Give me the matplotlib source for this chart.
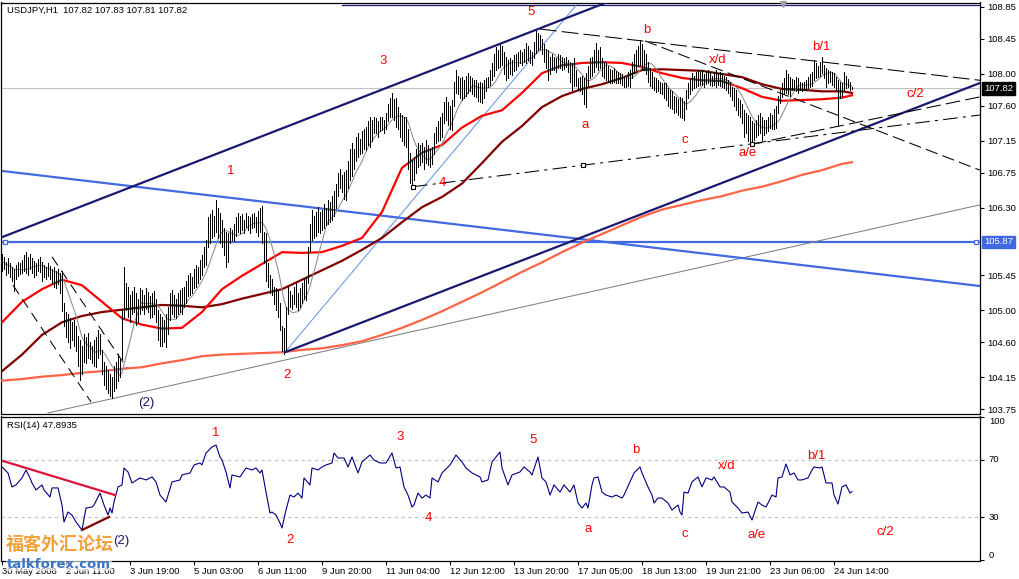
import numpy as np
import pandas as pd
import matplotlib
matplotlib.use("Agg")
import matplotlib.pyplot as plt
import matplotlib.transforms as mtransforms

# ---------------- data ----------------
highs = [
 105.72,105.68,105.62,105.66,105.60,105.55,105.52,105.58,105.62,105.60,
 105.64,105.70,105.74,105.68,105.72,105.66,105.63,105.60,105.65,105.68,
 105.62,105.58,105.55,105.60,105.56,105.52,105.55,105.50,105.53,105.48,
 105.50,105.10,104.98,104.95,104.90,104.85,104.88,104.80,104.68,104.62,
 104.55,104.70,104.66,104.72,104.60,104.55,104.62,104.66,104.75,104.70,
 104.50,104.35,104.30,104.25,104.20,104.15,104.30,104.35,104.45,104.40,
 105.00,105.55,105.35,105.30,105.20,105.25,105.30,105.22,105.15,105.28,
 105.26,105.20,105.28,105.24,105.18,105.22,105.25,105.15,105.00,104.95,
 104.92,104.88,104.95,105.05,105.22,105.26,105.20,105.15,105.22,105.26,
 105.28,105.30,105.38,105.45,105.48,105.42,105.52,105.58,105.55,105.64,
 105.70,105.80,105.90,106.18,106.22,106.28,106.20,106.40,106.30,106.24,
 106.15,106.05,106.00,105.98,106.05,106.02,106.10,106.18,106.24,106.20,
 106.22,106.15,106.24,106.20,106.18,106.22,106.24,106.18,106.26,106.30,
 106.33,106.00,105.98,105.60,105.45,105.40,105.30,105.28,105.25,105.10,
 104.80,104.78,105.05,105.30,105.25,105.20,105.30,105.35,105.22,105.28,
 105.35,105.40,105.43,105.80,106.10,106.27,106.20,106.25,106.31,106.25,
 106.28,106.35,106.30,106.40,106.38,106.45,106.52,106.60,106.75,106.80,
 106.72,106.76,106.78,106.90,107.05,107.13,107.05,107.20,107.25,107.18,
 107.28,107.30,107.33,107.40,107.46,107.42,107.45,107.44,107.40,107.45,
 107.46,107.42,107.50,107.62,107.70,107.76,107.68,107.70,107.58,107.50,
 107.48,107.45,107.46,107.30,107.00,106.91,106.95,107.05,107.13,107.10,
 107.12,107.08,107.16,107.10,107.05,107.08,107.25,107.33,107.40,107.46,
 107.50,107.65,107.71,107.65,107.60,107.67,107.90,108.05,107.98,107.95,
 107.96,107.92,107.98,108.01,107.98,107.95,107.92,107.93,107.88,107.90,
 107.88,107.92,107.95,107.96,108.05,108.14,108.25,108.34,108.30,108.39,
 108.36,108.28,108.22,108.18,108.20,108.18,108.24,108.26,108.28,108.30,
 108.28,108.32,108.39,108.36,108.30,108.28,108.40,108.56,108.52,108.50,
 108.45,108.38,108.32,108.30,108.22,108.25,108.22,108.20,108.26,108.24,
 108.22,108.20,108.22,108.18,108.15,108.14,108.20,108.05,107.95,107.96,
 107.98,107.95,108.01,108.10,108.20,108.22,108.30,108.39,108.30,108.34,
 108.20,108.15,108.14,108.10,108.06,108.05,108.08,108.04,108.02,108.01,
 108.00,107.98,107.96,108.02,108.05,108.15,108.26,108.30,108.36,108.43,
 108.38,108.30,108.26,108.15,108.08,108.02,107.96,107.95,107.92,107.90,
 107.89,107.88,107.88,107.82,107.80,107.78,107.72,107.71,107.68,107.71,
 107.70,107.66,107.80,107.88,107.95,108.01,107.98,108.03,108.05,108.02,
 108.05,108.00,108.04,108.05,108.02,107.98,108.03,108.05,108.00,108.02,
 108.01,107.98,107.96,107.92,107.90,107.84,107.82,107.80,107.70,107.67,
 107.62,107.54,107.50,107.48,107.46,107.40,107.38,107.42,107.48,107.50,
 107.46,107.42,107.42,107.45,107.50,107.48,107.55,107.60,107.72,107.80,
 107.88,107.95,108.05,108.00,107.96,107.94,107.92,107.96,107.95,107.90,
 107.89,107.90,107.92,107.96,108.00,108.02,108.18,108.14,108.10,108.15,
 108.22,108.12,108.08,108.05,108.04,108.02,108.01,107.96,107.92,107.90,
 107.88,108.02,107.98,107.94,107.90,107.83]
lows = [
 105.50,105.52,105.45,105.47,105.42,105.38,105.25,105.40,105.44,105.46,
 105.47,105.50,105.48,105.45,105.52,105.48,105.42,105.45,105.50,105.49,
 105.38,105.42,105.40,105.44,105.40,105.35,105.30,105.28,105.33,105.22,
 104.99,104.80,104.66,104.60,104.52,104.62,104.55,104.48,104.30,104.12,
 104.20,104.35,104.33,104.40,104.38,104.33,104.30,104.28,104.40,104.45,
 104.20,104.05,104.00,103.95,103.92,103.89,103.98,104.02,104.10,104.15,
 104.38,104.90,105.00,104.92,104.85,104.95,104.98,104.82,104.85,104.95,
 105.00,104.95,105.02,104.98,104.90,104.92,104.96,104.85,104.62,104.55,
 104.55,104.60,104.54,104.70,104.88,104.95,104.92,104.90,104.96,104.98,
 104.96,105.05,105.10,105.18,105.20,105.22,105.28,105.30,105.35,105.40,
 105.45,105.55,105.58,105.80,105.85,105.92,105.95,106.00,105.92,105.86,
 105.80,105.70,105.55,105.62,105.85,105.90,105.88,105.95,106.00,105.98,
 106.02,105.98,106.06,106.02,105.98,106.05,106.06,106.00,105.95,106.00,
 105.86,105.60,105.38,105.30,105.22,105.20,105.08,105.00,104.92,104.75,
 104.48,104.45,104.50,104.95,105.05,105.02,105.08,105.05,105.00,105.05,
 105.10,105.15,105.13,105.35,105.75,105.89,105.92,105.95,106.00,105.98,
 106.02,106.05,106.08,106.10,106.12,106.15,106.20,106.30,106.45,106.55,
 106.50,106.42,106.40,106.55,106.65,106.70,106.80,106.90,106.95,106.98,
 107.00,107.05,107.04,107.10,107.08,107.15,107.25,107.25,107.20,107.28,
 107.29,107.25,107.30,107.40,107.45,107.46,107.42,107.33,107.30,107.20,
 107.15,107.10,107.08,106.80,106.62,106.57,106.65,106.75,106.82,106.85,
 106.88,106.80,106.87,106.85,106.82,106.86,106.98,107.13,107.15,107.16,
 107.20,107.38,107.42,107.35,107.30,107.29,107.60,107.76,107.74,107.70,
 107.67,107.70,107.72,107.76,107.78,107.74,107.72,107.71,107.66,107.64,
 107.63,107.70,107.78,107.84,107.86,107.92,107.98,108.05,108.08,108.09,
 108.12,108.00,107.92,107.95,108.00,107.99,108.04,108.05,108.10,108.14,
 108.12,108.15,108.14,108.18,108.14,108.12,108.20,108.27,108.30,108.32,
 108.25,108.15,108.07,107.92,108.00,108.05,108.05,108.02,108.08,108.07,
 108.05,108.06,108.09,108.02,107.90,107.80,107.85,107.85,107.80,107.78,
 107.75,107.62,107.58,107.85,107.95,107.98,108.02,108.09,108.05,108.08,
 107.98,107.95,107.92,107.90,107.88,107.88,107.90,107.89,107.88,107.89,
 107.86,107.84,107.84,107.85,107.83,107.95,108.01,108.05,108.10,108.12,
 108.05,108.05,108.00,107.90,107.85,107.82,107.80,107.77,107.78,107.76,
 107.75,107.70,107.67,107.60,107.57,107.55,107.50,107.52,107.48,107.46,
 107.44,107.42,107.55,107.70,107.75,107.80,107.82,107.83,107.85,107.86,
 107.86,107.84,107.87,107.88,107.86,107.85,107.86,107.84,107.86,107.85,
 107.84,107.82,107.80,107.76,107.72,107.67,107.60,107.54,107.48,107.46,
 107.38,107.20,107.25,107.15,107.11,107.13,107.16,107.20,107.22,107.25,
 107.16,107.22,107.25,107.28,107.31,107.30,107.30,107.32,107.50,107.63,
 107.71,107.75,107.76,107.74,107.72,107.80,107.80,107.78,107.76,107.80,
 107.78,107.80,107.80,107.82,107.84,107.85,107.92,107.95,107.96,107.98,
 108.01,107.95,107.84,107.88,107.90,107.86,107.84,107.80,107.35,107.70,
 107.72,107.80,107.82,107.84,107.80,107.81]

ma_bar = list(range(0, 421, 10)) + [425]
ma_red = [104.85,105.11,105.27,105.39,105.32,105.11,104.90,104.82,104.77,104.78,
          104.98,105.27,105.44,105.59,105.74,105.73,105.74,105.82,105.92,106.25,
          106.81,107.00,107.10,107.32,107.47,107.54,107.76,108.01,108.11,108.14,
          108.15,108.14,108.09,108.01,107.95,107.92,107.91,107.82,107.71,107.66,
          107.67,107.68,107.70,107.73]
ma_maroon = [104.23,104.44,104.69,104.85,104.93,104.98,105.01,105.04,105.07,105.06,
             105.04,105.08,105.15,105.21,105.27,105.39,105.51,105.63,105.77,105.92,
             106.12,106.31,106.44,106.61,106.87,107.14,107.34,107.58,107.72,107.81,
             107.87,107.95,108.05,108.06,108.05,108.04,108.00,107.96,107.87,107.81,
             107.80,107.78,107.78,107.76]
ma_tomato = [104.11,104.13,104.16,104.18,104.21,104.23,104.26,104.28,104.33,104.37,
             104.42,104.44,104.45,104.46,104.47,104.50,104.52,104.56,104.61,104.69,
             104.78,104.88,104.99,105.11,105.23,105.36,105.49,105.61,105.74,105.86,
             105.97,106.08,106.19,106.28,106.34,106.40,106.45,106.52,106.57,106.64,
             106.72,106.78,106.86,106.88]

rsi_bar = [0,3,5,7,10,12,14,15,17,20,21,24,25,28,30,31,33,35,37,40,42,45,46,49,51,53,54,55,56,58,
           60,61,63,65,69,72,75,77,79,82,85,89,90,94,96,99,100,102,105,107,109,110,112,114,115,119,
           122,125,127,129,130,132,134,135,137,139,140,142,144,146,148,150,151,154,155,158,160,162,
           165,166,168,169,171,173,175,178,180,184,186,189,192,195,197,199,201,203,205,206,208,210,
           212,214,215,218,220,224,227,230,232,235,239,240,243,245,249,250,253,255,259,261,264,265,
           268,270,272,274,276,279,281,284,286,288,290,292,293,295,296,298,300,302,305,307,310,311,
           314,316,319,320,323,325,326,328,330,333,335,338,339,340,341,343,345,348,350,352,355,356,
           359,361,364,365,368,370,373,375,378,380,382,385,387,388,390,392,394,396,398,400,403,405,
           406,409,410,412,415,416,418,420,422,424,425]
rsi_value = [65.1,60.9,51.1,52.5,57.4,63.0,57.4,53.9,49.0,52.5,49.0,44.0,50.4,50.4,38.4,26.5,33.5,31.4,26.5,20.9,
             36.3,37.0,38.4,46.8,38.4,31.4,36.3,32.8,40.5,51.1,
             52.5,64.4,61.6,53.9,57.4,56.0,58.1,54.6,45.4,40.5,54.6,56.0,59.5,60.9,66.5,67.9,66.5,74.9,79.1,80.5,
             72.1,70.0,61.6,50.4,59.5,58.1,
             64.4,63.0,64.4,60.9,63.0,47.5,32.8,33.5,31.4,25.8,22.3,34.9,45.4,44.0,46.8,43.3,57.4,52.5,64.4,63.0,
             65.1,66.5,
             67.9,74.9,71.4,71.4,71.4,65.1,72.1,60.9,68.6,73.5,70.0,67.9,67.9,74.9,64.4,65.1,51.1,45.4,37.0,38.4,
             46.8,43.3,
             45.4,43.3,57.4,54.6,60.9,66.5,73.5,68.6,64.4,60.9,58.1,54.6,56.0,68.6,75.6,64.4,52.5,59.5,61.6,65.1,
             61.6,59.5,
             72.1,57.4,54.6,45.4,52.5,47.5,52.5,47.5,52.5,39.8,36.3,39.8,36.3,52.5,57.4,58.1,47.5,45.4,44.0,45.4,
             43.3,45.4,
             54.6,60.9,65.1,60.9,51.1,45.4,39.8,43.3,43.3,39.8,34.9,38.4,33.5,31.4,47.5,46.8,54.6,58.1,51.1,57.4,
             56.0,58.1,
             51.1,51.1,47.5,40.5,36.3,32.8,33.5,27.9,40.5,38.4,37.0,45.4,44.0,57.4,58.1,67.2,59.5,60.9,56.0,56.0,
             57.4,63.0,
             65.1,64.4,65.1,53.9,53.9,45.4,39.1,51.1,52.5,46.8,47.89]

price_ticks = [108.85, 108.45, 108.00, 107.60, 107.15, 106.75, 106.30,
               105.45, 105.00, 104.60, 104.15, 103.75]
time_bar = [0, 32, 64, 96, 128, 160, 192, 224, 256, 288, 320, 352, 384, 416]
time_labels = ["30 May 2008", "2 Jun 11:00", "3 Jun 19:00", "5 Jun 03:00", "6 Jun 11:00",
               "9 Jun 20:00", "11 Jun 04:00", "12 Jun 12:00", "13 Jun 20:00", "17 Jun 05:00",
               "18 Jun 13:00", "19 Jun 21:00", "23 Jun 06:00", "24 Jun 14:00"]
bid_price = 107.82
support_level = 105.87
top_level = 108.875

# trend lines (bar index, price)
chan_up_bar, chan_up_px = [0, 301.5], [105.93, 108.90]
chan_lo_bar, chan_lo_px = [141.5, 489], [104.47, 107.886]
blue_bar, blue_px = [0, 489], [106.77, 105.31]
grey_bar, grey_px = [23, 489], [103.70, 106.34]
cf_bar, cf_px = [141.5, 288], [104.47, 108.90]
dash_a_bar, dash_a_px = [269, 489], [108.57, 107.92]
dash_b_bar, dash_b_px = [321.5, 489], [108.42, 106.78]
dd_c_bar, dd_c_px = [205.5, 489], [106.57, 107.48]
dash_d_bar, dash_d_px = [375, 489], [107.11, 107.71]
early1_bar, early1_px = [5.5, 44.5], [105.32, 103.84]
early2_bar, early2_px = [25, 62.5], [105.68, 104.27]
anchor_bar, anchor_px = [205.5, 290.5, 375], [106.57, 106.84, 107.11]
rsi_line1_bar, rsi_line1_val = [0.5, 56.5], [69.3, 45.4]
rsi_line2_bar, rsi_line2_val = [40, 53.5], [20.9, 30.0]

wave_main = [("5", 264.5, 108.79), ("3", 190.5, 108.17), ("1", 114.5, 106.77), ("2", 142.5, 104.18),
             ("4", 220, 106.62), ("a", 291.5, 107.35), ("b", 322.5, 108.56), ("c", 341.5, 107.16),
             ("x/d", 358, 108.18), ("a/e", 373, 107.00), ("b/1", 409.5, 108.34), ("c/2", 456.5, 107.75)]
wave_rsi = [("1", 107, 88.9), ("2", 144, 13.9), ("3", 199, 86.1), ("4", 213, 29.3), ("5", 265.5, 84.0),
            ("a", 293, 21.6), ("b", 317, 77.0), ("c", 341.5, 18.1), ("x/d", 362.5, 65.8),
            ("a/e", 377.5, 17.4), ("b/1", 407, 72.8), ("c/2", 441.5, 19.5)]

# ---------------- figure ----------------
W, H = 1020, 579
fig = plt.figure(figsize=(W / 100, H / 100), dpi=100)
fig.patch.set_facecolor("white")
FONT = "Liberation Sans"

def px_rect(l, t, r, b):
    return [l / W, 1 - b / H, (r - l) / W, (b - t) / H]

ax = fig.add_axes(px_rect(1, 2.5, 980, 413.5))
rx = fig.add_axes(px_rect(1, 416.5, 980, 560.5), sharex=ax)
for a in (ax, rx):
    a.set_facecolor("white")
    for s in a.spines.values():
        s.set_color("black")
        s.set_linewidth(0.9)

ax.set_xlim(-0.5, 489)
ax.set_ylim(103.693, 108.907)
rx.set_ylim(-0.5, 100.5)

idx = np.arange(len(highs))
hi = np.array(highs)
lo = np.array(lows)

# bid line and horizontal levels
ax.axhline(bid_price, color="#C0C0C0", lw=0.8, zorder=1)
ax.axhline(support_level, color="#4169E1", lw=1.6, zorder=2)
ax.plot([170, 489], [top_level, top_level], color="#191970", lw=0.9, zorder=2)
ax.plot([1.5, 487], [support_level, support_level], ls="none", marker="s", ms=3.5,
        mfc="white", mec="#4169E1", mew=0.9, zorder=3)

# thin trend lines
ax.plot(grey_bar, grey_px, color="#808080", lw=0.75, zorder=2)
ax.plot(cf_bar, cf_px, color="#6495ED", lw=0.75, zorder=2)
ax.plot(blue_bar, blue_px, color="#4169E1", lw=1.6, zorder=2)

# moving averages
ax.plot(ma_bar, ma_tomato, color="#FF6347", lw=1.6, zorder=3)
ax.plot(ma_bar, ma_maroon, color="#800000", lw=1.6, zorder=3)
ax.plot(ma_bar, ma_red, color="#FF0000", lw=1.6, zorder=3)
mid = pd.Series((hi + lo) / 2.0)
grey_ma = mid.rolling(10, min_periods=1).mean()
ax.plot(idx, grey_ma, color="#8c8c8c", lw=0.75, zorder=4)

# price bars
ax.vlines(idx, lo, hi, colors="black", lw=0.55, antialiased=False, zorder=5)

# channel lines
ax.plot(chan_up_bar, chan_up_px, color="#191970", lw=1.6, zorder=6)
ax.plot(chan_lo_bar, chan_lo_px, color="#191970", lw=1.6, zorder=6)

# dashed lines
ax.plot(dash_a_bar, dash_a_px, color="black", lw=0.75, dashes=(16, 5), zorder=6)
ax.plot(dash_b_bar, dash_b_px, color="black", lw=0.75, dashes=(12, 5), zorder=6)
ax.plot(dd_c_bar, dd_c_px, color="black", lw=0.75, dashes=(14, 5, 3, 5), zorder=6)
ax.plot(dash_d_bar, dash_d_px, color="black", lw=0.75, dashes=(14, 5), zorder=6)
ax.plot(early1_bar, early1_px, color="black", lw=0.75, dashes=(10, 6), zorder=6)
ax.plot(early2_bar, early2_px, color="black", lw=0.75, dashes=(10, 6), zorder=6)
ax.plot(anchor_bar, anchor_px, ls="none", marker="s", ms=3.5, mfc="white", mec="black",
        mew=0.8, zorder=7)
ax.plot([390.5], [108.885], marker="v", ms=5, color="#A0A0A0", ls="none", zorder=7,
        clip_on=False)

for t, b, p in wave_main:
    ax.text(b, p, t, color="red", fontsize=9.5, family=FONT, ha="center", va="center", zorder=8)
ax.text(72, 103.83, "(2)", color="#191970", fontsize=9.5, family=FONT, ha="center", va="center",
        zorder=8)

# price axis
ax.yaxis.tick_right()
ax.set_yticks(price_ticks)
ax.set_yticklabels([f"{v:.2f}" for v in price_ticks])
ax.tick_params(axis="y", direction="out", length=3, width=0.8, pad=2, labelsize=6.8,
               colors="black")
for lbl in ax.get_yticklabels():
    lbl.set_family(FONT)
ax.tick_params(axis="x", bottom=False, labelbottom=False)
trans = mtransforms.blended_transform_factory(ax.transAxes, ax.transData)
ax.text(1.004, bid_price, f"{bid_price:.2f}", transform=trans, color="white", fontsize=6.8,
        family=FONT, va="center", ha="left",
        bbox=dict(boxstyle="square,pad=0.2", fc="black", ec="black"), zorder=10, clip_on=False)
ax.text(1.004, support_level, f"{support_level:.2f}", transform=trans, color="white",
        fontsize=6.8, family=FONT, va="center", ha="left",
        bbox=dict(boxstyle="square,pad=0.2", fc="#4169E1", ec="#4169E1"), zorder=10,
        clip_on=False)

fig.text(7 / W, 1 - 10 / H, "USDJPY,H1  107.82 107.83 107.81 107.82", fontsize=6.8,
         family=FONT, va="center", ha="left")

# ---------------- RSI ----------------
for lvl in (30, 70):
    rx.axhline(lvl, color="#C0C0C0", lw=0.8, dashes=(3, 3), zorder=1)
rx.plot(rsi_bar, rsi_value, color="#000080", lw=0.8, zorder=3)
rx.plot(rsi_line1_bar, rsi_line1_val, color="#DC143C", lw=1.6, zorder=4)
rx.plot(rsi_line2_bar, rsi_line2_val, color="#800000", lw=1.6, zorder=4)
for t, b, v in wave_rsi:
    rx.text(b, v, t, color="red", fontsize=9.5, family=FONT, ha="center", va="center", zorder=8)
rx.text(59.5, 13.2, "(2)", color="#191970", fontsize=9.5, family=FONT, ha="center",
        va="center", zorder=8)
fig.text(7 / W, 1 - 425 / H, "RSI(14) 47.8935", fontsize=6.8, family=FONT, va="center",
         ha="left")

rx.yaxis.tick_right()
rx.set_yticks([0, 30, 70, 100])
rx.set_yticklabels(["", "", "", ""])
rx.tick_params(axis="y", direction="out", length=3, width=0.8)
rtrans = mtransforms.blended_transform_factory(rx.transAxes, fig.transFigure)
for lab, ypx in (("100", 422), ("70", 460), ("30", 517), ("0", 555)):
    rx.text(1.009, 1 - ypx / H, lab, transform=rtrans, fontsize=6.8, family=FONT,
            va="center", ha="left", clip_on=False)

rx.set_xticks(time_bar)
rx.set_xticklabels(time_labels)
rx.tick_params(axis="x", direction="out", length=3, width=0.8, pad=2, labelsize=6.8)
for lbl in rx.get_xticklabels():
    lbl.set_family(FONT)
    lbl.set_ha("left")

# watermark (sits over the first axis labels, as in the source image)
fig.text(6 / W, 1 - 545 / H, "福客外汇论坛", family=["Noto Sans CJK SC", "DejaVu Sans"],
         fontsize=13, fontweight="bold", color="#F2A23A", va="center", ha="left", zorder=20)
fig.text(7 / W, 1 - 564 / H, "talkforex.com", family="DejaVu Sans", fontsize=9.5,
         fontweight="bold", color="#3A74C4", va="center", ha="left", zorder=20,
         bbox=dict(boxstyle="square,pad=0.05", fc="white", ec="none", alpha=0.6))

fig.savefig("out.png", dpi=100, facecolor="white")
